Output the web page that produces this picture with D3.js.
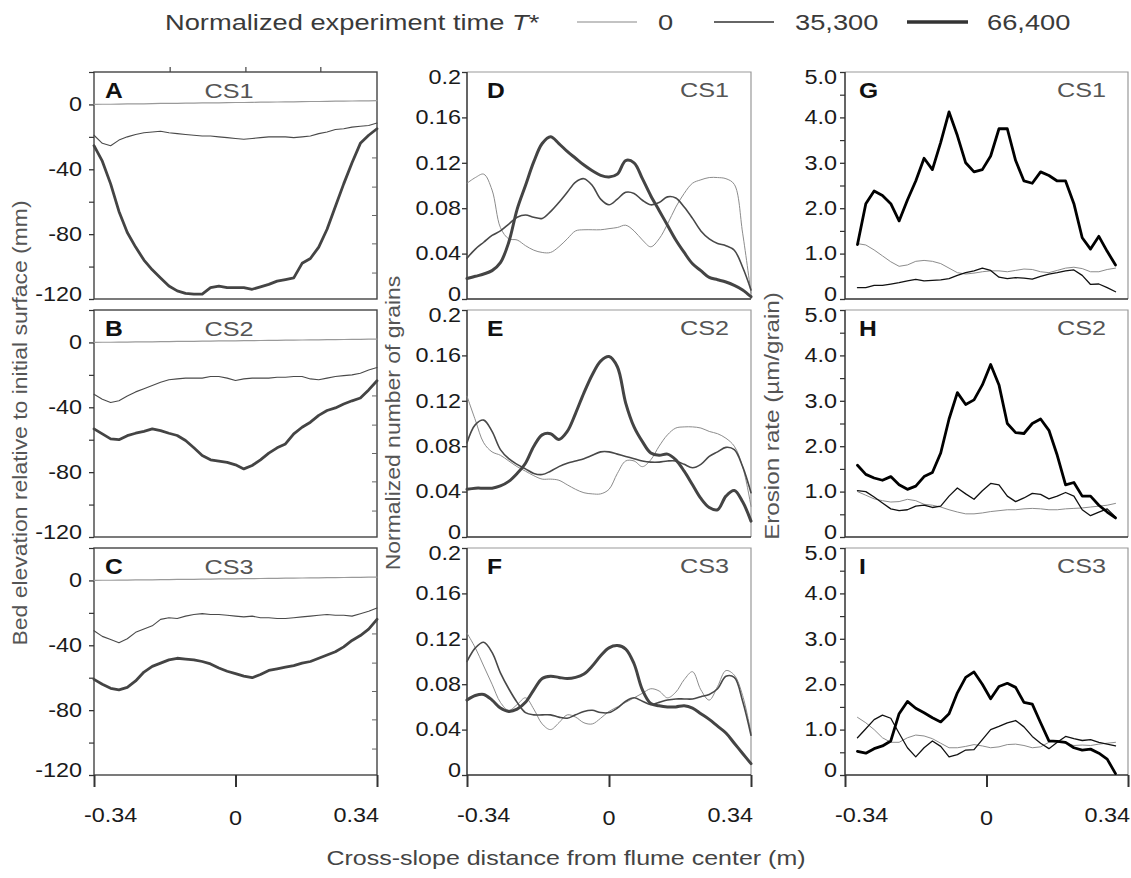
<!DOCTYPE html>
<html lang="en">
<head>
<meta charset="UTF-8">
<title>Cross-slope profiles</title>
<script src="https://d3js.org/d3.v7.min.js"></script>
<style>
  body { margin: 0; background: #fff; font-family: "Liberation Sans", Arial, sans-serif; }
  svg { display: block; }
</style>
</head>
<body>
<svg width="1131" height="878"></svg>
<script>
// ---- data ----
const xGrid = [-0.34,-0.32,-0.30,-0.28,-0.26,-0.24,-0.22,-0.20,-0.18,-0.16,-0.14,-0.12,-0.10,-0.08,-0.06,-0.04,-0.02,0,
  0.02,0.04,0.06,0.08,0.10,0.12,0.14,0.16,0.18,0.20,0.22,0.24,0.26,0.28,0.30,0.32,0.34];
const xGridRate = [-0.31,-0.29,-0.27,-0.25,-0.23,-0.21,-0.19,-0.17,-0.15,-0.13,-0.11,-0.09,-0.07,-0.05,-0.03,-0.01,
  0.01,0.03,0.05,0.07,0.09,0.11,0.13,0.15,0.17,0.19,0.21,0.23,0.25,0.27,0.29,0.31];
const timeLabels = ["0", "35,300", "66,400"];
const sections = ["CS1", "CS2", "CS3"];

// bed elevation (mm)
const elevA0 = [0,0.1,0.1,0.2,0.3,0.4,0.4,0.5,0.6,0.6,0.7,0.8,0.8,0.9,1.0,1.0,1.1,1.2,1.2,1.3,1.4,1.4,1.5,1.6,1.6,1.7,1.8,1.8,1.9,2.0,2.0,2.1,2.2,2.2,2.3];
const elevA1 = [-19,-24,-25.5,-22,-20,-18.5,-17.5,-17,-16.5,-17.5,-18,-18.5,-19,-19.5,-19.5,-20,-20.5,-21,-21.5,-21,-20.5,-20,-20,-20,-20.5,-20,-19.5,-18,-17,-15.5,-15,-14,-13.5,-13,-11.5];
const elevA2 = [-25.4,-35,-49,-66,-79,-88,-96,-102,-107,-112,-115,-116.5,-117,-117,-113,-112,-113,-113,-113,-114,-112.5,-111,-109,-108,-107,-98,-95,-88,-77,-63,-49,-36,-24,-19,-15];
const elevB0 = [0,0.1,0.1,0.2,0.2,0.3,0.4,0.4,0.5,0.5,0.6,0.7,0.7,0.8,0.8,0.9,1.0,1.0,1.1,1.1,1.2,1.3,1.3,1.4,1.4,1.5,1.6,1.6,1.7,1.7,1.8,1.9,1.9,2.0,2.0];
const elevB1 = [-32,-35,-37,-36,-33,-30.5,-28.5,-26.5,-24.5,-23,-22.5,-22,-22,-22,-21,-21,-22,-23.5,-22.5,-22,-22,-22,-21.5,-21.5,-21,-21,-22.5,-23,-22,-21,-20.5,-20,-19,-17,-15.5];
const elevB2 = [-53.3,-56.4,-59.5,-60,-57.5,-56,-54.8,-53.3,-54.4,-56,-57.4,-60.5,-65,-69.7,-72.4,-73.2,-74,-75.5,-78,-75.9,-72.4,-68.3,-65,-62.6,-56.4,-52.3,-49.2,-45,-42,-40.4,-38,-36,-34.3,-29.3,-23.6];
const elevC0 = [0,0.1,0.1,0.2,0.2,0.3,0.4,0.4,0.5,0.5,0.6,0.7,0.7,0.8,0.8,0.9,1.0,1.0,1.1,1.1,1.2,1.3,1.3,1.4,1.4,1.5,1.6,1.6,1.7,1.7,1.8,1.9,1.9,2.0,2.0];
const elevC1 = [-31,-34.5,-36.5,-38.5,-36,-32,-30,-28,-24,-23,-23.5,-22,-21,-20.5,-21,-21,-21.5,-22,-22.5,-22,-23,-23,-23.5,-23.5,-23,-22.5,-22,-21.5,-21,-21.5,-21.5,-22,-20.5,-19,-17];
const elevC2 = [-61,-64,-66.5,-67.5,-66,-62,-56.5,-53,-51,-49,-48,-48.5,-49,-50,-51.5,-54,-56,-57.5,-59,-60,-58,-55.5,-54.5,-53.5,-52.5,-51,-50,-48,-46,-44,-41,-37,-34,-30,-24];

// normalized number of grains
const grainsD0 = [0.102,0.107,0.110,0.096,0.063,0.053,0.052,0.047,0.043,0.041,0.041,0.046,0.053,0.060,0.061,0.061,0.061,0.062,0.063,0.065,0.060,0.052,0.046,0.053,0.066,0.081,0.093,0.102,0.105,0.107,0.107,0.106,0.101,0.058,0.005];
const grainsD1 = [0.036,0.044,0.050,0.056,0.060,0.066,0.072,0.074,0.072,0.071,0.077,0.085,0.094,0.103,0.106,0.100,0.088,0.083,0.088,0.094,0.093,0.087,0.083,0.085,0.090,0.089,0.081,0.071,0.060,0.053,0.049,0.047,0.043,0.028,0.008];
const grainsD2 = [0.018,0.020,0.022,0.025,0.032,0.050,0.079,0.100,0.121,0.137,0.143,0.137,0.130,0.124,0.118,0.113,0.109,0.1075,0.110,0.122,0.120,0.106,0.091,0.078,0.065,0.052,0.041,0.031,0.025,0.019,0.017,0.015,0.012,0.008,0.002];
const grainsE0 = [0.124,0.103,0.083,0.075,0.072,0.067,0.062,0.058,0.054,0.051,0.051,0.050,0.046,0.042,0.039,0.038,0.038,0.042,0.056,0.067,0.067,0.062,0.068,0.080,0.090,0.096,0.097,0.097,0.096,0.093,0.091,0.087,0.080,0.062,0.027];
const grainsE1 = [0.083,0.099,0.103,0.093,0.077,0.069,0.064,0.060,0.056,0.055,0.058,0.062,0.065,0.067,0.069,0.072,0.075,0.075,0.073,0.071,0.069,0.067,0.066,0.066,0.067,0.067,0.064,0.061,0.064,0.071,0.075,0.079,0.077,0.062,0.039];
const grainsE2 = [0.042,0.043,0.043,0.043,0.045,0.049,0.056,0.065,0.080,0.090,0.091,0.086,0.093,0.109,0.127,0.143,0.155,0.159,0.150,0.118,0.097,0.084,0.074,0.072,0.073,0.068,0.058,0.046,0.034,0.026,0.024,0.036,0.041,0.031,0.014];
const grainsF0 = [0.125,0.112,0.096,0.080,0.064,0.057,0.062,0.068,0.058,0.045,0.040,0.046,0.053,0.051,0.046,0.045,0.050,0.056,0.060,0.064,0.068,0.072,0.076,0.074,0.068,0.073,0.084,0.091,0.075,0.066,0.078,0.092,0.088,0.070,0.037];
const grainsF1 = [0.100,0.112,0.117,0.108,0.090,0.076,0.064,0.055,0.053,0.053,0.053,0.051,0.050,0.053,0.056,0.057,0.055,0.055,0.059,0.065,0.068,0.065,0.062,0.064,0.066,0.067,0.067,0.067,0.069,0.071,0.076,0.087,0.086,0.065,0.035];
const grainsF2 = [0.066,0.070,0.071,0.066,0.059,0.056,0.058,0.064,0.075,0.085,0.087,0.086,0.085,0.086,0.089,0.096,0.105,0.112,0.114,0.111,0.098,0.075,0.063,0.061,0.060,0.060,0.061,0.059,0.054,0.049,0.043,0.037,0.028,0.019,0.010];

// erosion rate (um/grain)
const rateG0 = [1.22,1.19,1.08,0.95,0.82,0.72,0.75,0.83,0.85,0.83,0.78,0.68,0.58,0.55,0.57,0.6,0.62,0.62,0.6,0.63,0.66,0.65,0.6,0.58,0.63,0.68,0.7,0.67,0.6,0.6,0.65,0.68];
const rateG1 = [0.25,0.25,0.3,0.3,0.33,0.36,0.4,0.43,0.4,0.41,0.42,0.45,0.52,0.58,0.62,0.68,0.63,0.48,0.45,0.47,0.46,0.44,0.5,0.55,0.58,0.62,0.64,0.52,0.32,0.33,0.25,0.16];
const rateG2 = [1.2,2.1,2.38,2.28,2.1,1.72,2.18,2.6,3.1,2.85,3.45,4.12,3.6,3.0,2.8,2.85,3.15,3.75,3.75,3.05,2.6,2.55,2.8,2.72,2.6,2.6,2.1,1.35,1.1,1.38,1.05,0.75];
const rateH0 = [1.0,0.92,0.84,0.8,0.77,0.78,0.83,0.8,0.72,0.7,0.66,0.6,0.55,0.51,0.51,0.53,0.56,0.58,0.6,0.6,0.62,0.63,0.62,0.6,0.6,0.62,0.63,0.64,0.66,0.68,0.7,0.74];
const rateH1 = [1.02,1.0,0.88,0.75,0.62,0.58,0.6,0.68,0.7,0.65,0.68,0.9,1.08,0.95,0.83,1.02,1.18,1.15,0.9,0.78,0.86,0.96,0.94,0.84,0.9,0.98,0.9,0.6,0.47,0.55,0.62,0.44];
const rateH2 = [1.58,1.38,1.3,1.25,1.33,1.15,1.05,1.12,1.33,1.42,1.85,2.6,3.18,2.92,3.02,3.35,3.8,3.35,2.5,2.3,2.28,2.5,2.6,2.35,1.8,1.15,1.2,0.9,0.9,0.7,0.55,0.42];
const rateI0 = [1.27,1.15,1.0,0.82,0.72,0.72,0.82,0.88,0.86,0.8,0.7,0.6,0.6,0.63,0.67,0.64,0.6,0.62,0.67,0.68,0.65,0.6,0.62,0.72,0.76,0.7,0.65,0.66,0.65,0.68,0.7,0.72];
const rateI1 = [0.82,1.02,1.22,1.32,1.25,0.92,0.6,0.4,0.6,0.75,0.63,0.4,0.45,0.55,0.56,0.78,1.0,1.07,1.15,1.2,1.06,0.85,0.7,0.58,0.72,0.85,0.8,0.76,0.78,0.72,0.68,0.64];
const rateI2 = [0.52,0.48,0.58,0.64,0.75,1.35,1.62,1.47,1.37,1.26,1.17,1.35,1.81,2.15,2.27,2.0,1.68,1.95,2.02,1.93,1.6,1.56,1.15,0.75,0.74,0.72,0.6,0.55,0.57,0.48,0.35,0.03];

// axis ticks
const xTicks = [-0.34, 0, 0.34];
const elevTicks = [-120, -80, -40, 0];
const elevMinor = [-100, -60, -20, 20];
const elevRightTicks = [-33, -51, -68.5, -86, -104];
const topTicksA = [-0.157, 0.025, 0.205];
const grainTicks = [0, 0.04, 0.08, 0.12, 0.16, 0.2];
const rateTicks = [0, 1, 2, 3, 4, 5];
const rateMinor = [0.5, 1.5, 2.5, 3.5, 4.5];

// ---- layout ----
const SX = 1.2; // the figure's lettering is wider than Liberation Sans
const cols = [
  { left: 94, right: 377, domain: [-120, 20], ticks: elevTicks, minor: elevMinor, fmt: d => String(d), gap: 12,
    letters: ["A", "B", "C"], letterDx: 11, xs: xGrid,
    data: [[elevA0, elevA1, elevA2], [elevB0, elevB1, elevB2], [elevC0, elevC1, elevC2]],
    colors: ["#9a9a9a", "#4a4a4a", "#444"], widths: [1.2, 1.1, 2.8], curve: d3.curveLinear },
  { left: 467, right: 751, domain: [0, 0.2], ticks: grainTicks, minor: [], fmt: d => d === 0 ? "0" : String(d), gap: 6,
    letters: ["D", "E", "F"], letterDx: 20, xs: xGrid,
    data: [[grainsD0, grainsD1, grainsD2], [grainsE0, grainsE1, grainsE2], [grainsF0, grainsF1, grainsF2]],
    colors: ["#8c8c8c", "#484848", "#444"], widths: [1, 1.6, 3], curve: d3.curveCatmullRom.alpha(0.5) },
  { left: 845, right: 1128, domain: [0, 5], ticks: rateTicks, minor: rateMinor, fmt: d => d === 0 ? "0" : d.toFixed(1), gap: 8,
    letters: ["G", "H", "I"], letterDx: 14, xs: xGridRate,
    data: [[rateG0, rateG1, rateG2], [rateH0, rateH1, rateH2], [rateI0, rateI1, rateI2]],
    colors: ["#8c8c8c", "#111", "#000"], widths: [1, 1.3, 2.8], curve: d3.curveLinear }
];
const rows = [ { top: 72, bottom: 299 }, { top: 310, bottom: 537 }, { top: 548, bottom: 775 } ];

const svg = d3.select("svg");
svg.append("rect").attr("width", 1131).attr("height", 878).attr("fill", "#fff");

function txt(g, x, y, s, o = {}) {
  return g.append("text")
    .attr("transform", `translate(${x},${y})` + (o.rot ? ` rotate(${o.rot})` : "") + ` scale(${o.sx || SX},1)`)
    .attr("text-anchor", o.anchor || "start")
    .attr("font-size", o.size || 19.5)
    .attr("font-weight", o.weight || "normal")
    .attr("fill", o.fill || "#1a1a1a")
    .text(s);
}

cols.forEach((c, ci) => {
  const x = d3.scaleLinear().domain([-0.34, 0.34]).range([c.left, c.right]);
  rows.forEach((r, ri) => {
    const y = d3.scaleLinear().domain(c.domain).range([r.bottom, r.top]);
    const g = svg.append("g");

    // frame
    if (ci === 0) {
      g.append("rect").attr("x", c.left).attr("y", r.top).attr("width", c.right - c.left).attr("height", r.bottom - r.top)
        .attr("fill", "none").attr("stroke", "#444").attr("stroke-width", 1.4);
    } else {
      g.append("path").attr("d", `M${c.left},${r.top}H${c.right}V${r.bottom}`)
        .attr("fill", "none").attr("stroke", "#999").attr("stroke-width", 1.2);
      g.append("path").attr("d", `M${c.left},${r.top}V${r.bottom}H${c.right}`)
        .attr("fill", "none").attr("stroke", "#333").attr("stroke-width", 1.5);
    }

    // y axis
    const lo = c.domain[0], hi = c.domain[1];
    const ya = g.append("g").attr("transform", `translate(${c.left},0)`)
      .call(d3.axisLeft(y).tickValues(c.ticks).tickFormat(c.fmt).tickSize(5).tickPadding(0));
    ya.select(".domain").remove();
    ya.selectAll("line").attr("stroke", "#333").attr("stroke-width", 1.3);
    ya.selectAll("text").attr("x", -c.gap / SX).attr("transform", `scale(${SX},1)`)
      .attr("y", d => d === lo ? -5 : d === hi ? 5 : 0)
      .attr("font-size", 19.5).attr("font-family", "Liberation Sans, Arial, sans-serif").attr("fill", "#1a1a1a");
    if (c.minor.length) {
      const ym = g.append("g").attr("transform", `translate(${c.left},0)`)
        .call(d3.axisLeft(y).tickValues(c.minor).tickFormat("").tickSize(5));
      ym.select(".domain").remove();
      ym.selectAll("line").attr("stroke", "#333").attr("stroke-width", 1.2);
    }
    if (ci === 0) {
      g.selectAll(".rt").data(elevRightTicks).enter().append("line")
        .attr("x1", c.right - 5).attr("x2", c.right).attr("y1", d => y(d)).attr("y2", d => y(d))
        .attr("stroke", "#666").attr("stroke-width", 1);
      if (ri === 0) {
        g.selectAll(".tt").data(topTicksA).enter().append("line")
          .attr("x1", d => x(d)).attr("x2", d => x(d)).attr("y1", r.top).attr("y2", r.top - 5)
          .attr("stroke", "#444").attr("stroke-width", 1.2);
      }
    }

    // x axis on bottom row
    if (ri === 2) {
      const xa = g.append("g").attr("transform", `translate(0,${r.bottom})`)
        .call(d3.axisBottom(x).tickValues(xTicks).tickFormat("").tickSize(12));
      xa.select(".domain").remove();
      xa.selectAll("line").attr("stroke", "#333").attr("stroke-width", 2);
      txt(g, x(-0.34) - 10, r.bottom + 47, "-0.34");
      txt(g, x(0), r.bottom + 50, "0", { anchor: "middle" });
      txt(g, x(0.34) + 2, r.bottom + 47, "0.34", { anchor: "end" });
    }

    // series
    const line = d3.line().x((d, i) => x(c.xs[i])).y(d => y(d)).curve(c.curve);
    c.data[ri].forEach((vals, si) => {
      g.append("path").datum(vals).attr("d", line)
        .attr("fill", "none").attr("stroke", c.colors[si]).attr("stroke-width", c.widths[si])
        .attr("stroke-linejoin", "round").attr("stroke-linecap", "round");
    });

    // panel letter and section name
    txt(g, c.left + c.letterDx, r.top + 26, c.letters[ri], { size: 22, weight: "bold", sx: 1.12, fill: "#111" });
    if (ci === 0) {
      txt(g, c.left + 135, r.top + 26, sections[ri], { anchor: "middle", size: 21, fill: "#555" });
    } else {
      txt(g, c.right - 22, r.top + 25, sections[ri], { anchor: "end", size: 21, fill: "#555" });
    }
  });
});

// axis titles
txt(svg, 27, 423, "Bed elevation relative to initial surface (mm)", { rot: -90, anchor: "middle", size: 20.5, sx: 1.12, fill: "#555" });
txt(svg, 400, 423, "Normalized number of grains", { rot: -90, anchor: "middle", size: 20.5, sx: 1.12, fill: "#555" });
txt(svg, 779, 416, "Erosion rate (\u00b5m/grain)", { rot: -90, anchor: "middle", size: 20.5, sx: 1.18, fill: "#555" });
txt(svg, 566, 865, "Cross-slope distance from flume center (m)", { anchor: "middle", size: 21, sx: 1.19, fill: "#444" });

// legend
const lg = svg.append("g");
const lt = txt(lg, 165, 30, "Normalized experiment time ", { size: 22, sx: 1.24, fill: "#3a3a3a" });
lt.append("tspan").attr("font-style", "italic").text("T");
lt.append("tspan").text("*");
const legendLines = [[577, 637, 658], [714, 774, 795], [907, 968, 987]];
const legendStroke = [["#888", 1.2], ["#333", 1.6], ["#333", 3.6]];
timeLabels.forEach((t, i) => {
  const [x1, x2, tx] = legendLines[i];
  lg.append("line").attr("x1", x1).attr("x2", x2).attr("y1", 22).attr("y2", 22)
    .attr("stroke", legendStroke[i][0]).attr("stroke-width", legendStroke[i][1]);
  txt(lg, tx, 30, t, { size: 22, sx: 1.24, fill: "#3a3a3a" });
});
</script>
</body>
</html>
